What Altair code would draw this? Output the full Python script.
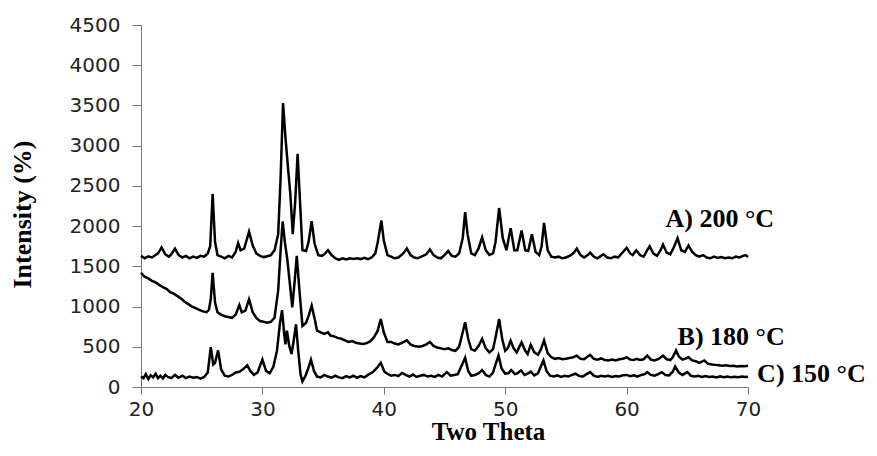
import altair as alt
import pandas as pd

# ---- Data ----
theta_a = [20.0, 20.3, 20.6, 20.9, 21.2, 21.4, 21.7, 22.0, 22.3, 22.5, 22.8, 23.1, 23.4, 23.7, 24.0, 24.3, 24.6, 24.9,
           25.2, 25.5, 25.7, 25.9, 26.1, 26.3, 26.6, 26.9, 27.2, 27.5, 27.8, 28.0, 28.2, 28.5, 28.9, 29.2, 29.5, 29.8,
           30.1, 30.4, 30.7, 31.0, 31.3, 31.5, 31.7, 31.9, 32.1, 32.3, 32.5, 32.7, 32.9, 33.1, 33.3, 33.6, 33.8, 34.06,
           34.3, 34.6, 34.9, 35.1, 35.4, 35.7, 36.0, 36.3, 36.6, 36.9, 37.2, 37.5, 37.8, 38.1, 38.4, 38.7, 39.0, 39.3,
           39.5, 39.8, 40.0, 40.3, 40.6, 40.9, 41.2, 41.6, 41.9, 42.2, 42.5, 42.8, 43.1, 43.5, 43.8, 44.1, 44.4, 44.7,
           45.0, 45.3, 45.6, 45.9, 46.2, 46.5, 46.7, 46.9, 47.2, 47.5, 47.8, 48.1, 48.4, 48.7, 49.0, 49.2, 49.5, 49.8,
           50.1, 50.45, 50.75, 51.0, 51.35, 51.65, 51.9, 52.2, 52.5, 52.8, 53.0, 53.2, 53.5, 53.8, 54.1, 54.4, 54.7,
           55.0, 55.3, 55.6, 55.9, 56.2, 56.5, 56.8, 57.0, 57.3, 57.6, 57.9, 58.1, 58.4, 58.7, 59.0, 59.3, 59.6, 60.0,
           60.3, 60.5, 60.8, 61.1, 61.4, 61.7, 61.9, 62.2, 62.5, 62.8, 63.0, 63.3, 63.6, 63.9, 64.2, 64.5, 64.8, 65.1,
           65.4, 65.7, 66.0, 66.3, 66.6, 66.9, 67.2, 67.5, 67.8, 68.1, 68.4, 68.7, 69.0, 69.3, 69.6, 69.8, 70.0]
int_a = [1630, 1600, 1625, 1610, 1640, 1660, 1735, 1650, 1620, 1650, 1720, 1640, 1610, 1630, 1600, 1620, 1605, 1630,
         1620, 1660, 1750, 2400, 1800, 1640, 1620, 1600, 1630, 1610, 1680, 1790, 1700, 1720, 1930, 1760, 1660, 1630,
         1615, 1625, 1640, 1700, 1900, 2600, 3530, 3100, 2740, 2400, 1900, 2300, 2900, 2300, 1700, 1690, 1800, 2060,
         1780, 1640, 1630, 1650, 1700, 1640, 1600, 1580, 1600, 1585, 1600, 1590, 1600, 1590, 1605, 1590, 1610, 1660,
         1800, 2070, 1820, 1640, 1620, 1600, 1610, 1660, 1720, 1640, 1610, 1600, 1620, 1650, 1710, 1640, 1610, 1600,
         1640, 1690, 1630, 1620, 1660, 1850, 2175, 1900, 1660, 1640, 1720, 1860, 1700, 1640, 1660, 1800, 2225, 1850,
         1700, 1975, 1700, 1700, 1945, 1700, 1690, 1900, 1680, 1640, 1750, 2040, 1700, 1620, 1610, 1620, 1600,
         1610, 1630, 1660, 1720, 1640, 1610, 1640, 1670, 1620, 1600, 1630, 1650, 1610, 1600, 1620, 1610, 1660, 1730,
         1660, 1640, 1700, 1640, 1620, 1700, 1750, 1660, 1630, 1700, 1770, 1670, 1650, 1740, 1850, 1700, 1680, 1760,
         1680, 1640, 1620, 1640, 1610, 1600, 1620, 1605, 1615, 1600, 1610, 1600, 1620, 1610, 1630, 1640, 1615]

theta_b = [20.0, 20.3, 20.6, 20.9, 21.2, 21.5, 21.8, 22.1, 22.4, 22.7, 23.0, 23.3, 23.6, 23.9, 24.2, 24.5, 24.8, 25.1,
           25.4, 25.6, 25.75, 25.9, 26.1, 26.3, 26.6, 26.9, 27.2, 27.5, 27.8, 28.1, 28.3, 28.6, 28.9, 29.2, 29.5, 29.8,
           30.1, 30.4, 30.7, 31.0, 31.3, 31.5, 31.67, 31.85, 32.05, 32.25, 32.46, 32.65, 32.83, 33.05, 33.3, 33.6, 33.8,
           34.06, 34.3, 34.5, 34.8, 35.1, 35.4, 35.6, 35.9, 36.2, 36.5, 36.8, 37.1, 37.4, 37.7, 38.0, 38.3, 38.6, 38.9,
           39.2, 39.5, 39.75, 40.0, 40.3, 40.6, 40.9, 41.2, 41.5, 41.9, 42.2, 42.5, 42.9, 43.2, 43.5, 43.8, 44.1, 44.4,
           44.7, 45.0, 45.3, 45.6, 45.9, 46.2, 46.45, 46.7, 46.95, 47.2, 47.5, 47.8, 48.1, 48.4, 48.7, 49.0, 49.25, 49.5,
           49.75, 50.0, 50.2, 50.45, 50.7, 50.95, 51.35, 51.65, 51.85, 52.1, 52.4, 52.7, 52.95, 53.2, 53.5, 53.8, 54.1,
           54.4, 54.7, 55.0, 55.3, 55.6, 55.9, 56.2, 56.5, 56.8, 57.0, 57.3, 57.6, 57.9, 58.2, 58.5, 58.8, 59.1, 59.4,
           59.7, 60.0, 60.3, 60.6, 60.8, 61.1, 61.4, 61.7, 62.0, 62.3, 62.6, 63.0, 63.3, 63.6, 63.8, 64.07, 64.3, 64.6,
           64.8, 65.1, 65.4, 65.7, 66.0, 66.4, 66.7, 67.0, 67.3, 67.6, 67.9, 68.2, 68.5, 68.8, 69.1, 69.4, 69.7, 70.0]
int_b = [1420, 1370, 1350, 1320, 1300, 1270, 1240, 1220, 1180, 1160, 1130, 1100, 1060, 1030, 1000, 980, 960, 940,
         930, 960, 1100, 1420, 1050, 930, 900, 880, 870, 860, 900, 1020, 930, 950, 1090, 930, 860, 820,
         810, 800, 810, 860, 1200, 1700, 2060, 1800, 1590, 1300, 990, 1300, 1630, 1200, 760, 800, 880,
         1010, 850, 700, 680, 660, 680, 640, 630, 610, 600, 580, 560, 570, 550, 540, 535, 545, 570,
         620, 700, 845, 680, 560, 560, 540, 530, 550, 580, 530, 510, 500, 510, 530, 560, 510, 490,
         480, 470, 480, 460, 450, 500, 650, 805, 600, 470, 450, 510, 600, 480, 430, 470, 650, 845,
         600, 450, 480, 575, 480, 430, 555, 450, 410, 525, 430, 400, 470, 580, 420, 370, 350,
         360, 345, 350, 360, 370, 390, 350, 345, 380, 400, 350, 340, 355, 335, 330, 340, 330, 345,
         350, 370, 340, 335, 350, 335, 345, 390, 340, 330, 345, 390, 345, 335, 370, 455, 380, 340,
         350, 370, 330, 320, 300, 330, 290, 280, 275, 270, 265, 270, 260, 265, 255, 262, 258, 265]

theta_c = [20.0, 20.2, 20.4, 20.6, 20.8, 21.0, 21.2, 21.4, 21.6, 21.8, 22.0, 22.2, 22.5, 22.8, 23.1, 23.4, 23.7, 24.0,
           24.3, 24.6, 24.9, 25.2, 25.5, 25.75, 25.95, 26.1, 26.35, 26.6, 26.9, 27.2, 27.5, 27.8, 28.1, 28.4, 28.75,
           29.0, 29.3, 29.6, 30.0, 30.3, 30.6, 30.9, 31.2, 31.45, 31.62, 31.8, 31.9, 32.02, 32.2, 32.4, 32.6, 32.77,
           32.95, 33.15, 33.3, 33.55, 33.75, 34.0, 34.25, 34.5, 34.8, 35.1, 35.4, 35.7, 36.0, 36.3, 36.6, 36.9, 37.2,
           37.5, 37.8, 38.1, 38.4, 38.7, 39.1, 39.45, 39.75, 40.05, 40.3, 40.6, 40.9, 41.2, 41.5, 41.8, 42.1, 42.4,
           42.7, 43.0, 43.3, 43.6, 43.9, 44.2, 44.5, 44.8, 45.2, 45.5, 45.8, 46.1, 46.4, 46.7, 46.95, 47.2, 47.5, 47.8,
           48.1, 48.4, 48.7, 49.0, 49.2, 49.45, 49.7, 50.0, 50.25, 50.5, 50.8, 51.0, 51.3, 51.6, 51.85, 52.1, 52.4,
           52.7, 52.95, 53.15, 53.4, 53.7, 54.0, 54.3, 54.6, 54.9, 55.2, 55.5, 55.8, 56.1, 56.4, 56.7, 57.0, 57.3,
           57.6, 57.9, 58.2, 58.5, 58.8, 59.1, 59.4, 59.7, 60.0, 60.3, 60.6, 60.9, 61.2, 61.5, 61.7, 62.0, 62.3, 62.6,
           62.9, 63.2, 63.5, 63.8, 64.0, 64.3, 64.6, 65.0, 65.3, 65.6, 65.9, 66.2, 66.5, 66.8, 67.1, 67.4, 67.7, 68.0,
           68.3, 68.6, 68.9, 69.2, 69.5, 69.8, 70.0]
int_c = [130, 110, 160, 100, 145, 120, 165, 110, 140, 105, 150, 125, 110, 150, 115, 140, 110, 130,
         115, 125, 105, 125, 180, 495, 280, 300, 455, 220, 140, 130, 150, 180, 190, 220, 270,
         200, 150, 180, 340, 200, 170, 250, 450, 800, 955, 650, 530, 700, 520, 410, 600, 780,
         450, 150, 70, 140, 220, 340, 200, 130, 120, 150, 130, 115, 140, 120, 110, 135, 120,
         140, 115, 135, 120, 150, 185, 240, 300, 190, 165, 140, 150, 135, 175, 150, 130, 155,
         125, 140, 150, 130, 140, 125, 150, 130, 185, 140, 150, 160, 260, 365, 200, 140, 150, 170,
         210, 150, 130, 180, 280, 390, 230, 165, 170, 210, 160, 170, 205, 150, 165, 190, 145,
         170, 260, 330, 200, 140, 130, 145, 125, 140, 130, 150, 165, 135, 130, 160, 185, 140,
         125, 140, 130, 140, 125, 135, 130, 145, 150, 135, 145, 130, 150, 160, 185, 150, 140, 160,
         185, 150, 145, 190, 255, 180, 150, 185, 140, 130, 140, 125, 135, 125, 130, 120, 132, 122,
         130, 120, 128, 122, 130, 124, 128]

series_names = ["A) 200 °C", "B) 180 °C", "C) 150 °C"]
label_theta = [63.2, 64.2, 70.75]
label_intensity = [1990, 522, 62]

x_ticks = [20, 30, 40, 50, 60, 70]
y_ticks = [0, 500, 1000, 1500, 2000, 2500, 3000, 3500, 4000, 4500]

rows = []
for name, xs, ys in zip(series_names, [theta_a, theta_b, theta_c], [int_a, int_b, int_c]):
    for xv, yv in zip(xs, ys):
        rows.append({"theta": xv, "intensity": yv, "series": name})
df = pd.DataFrame(rows)
labels_df = pd.DataFrame({"theta": label_theta, "intensity": label_intensity, "label": series_names})

x_scale = alt.Scale(domain=[20, 70], nice=False, zero=False)
y_scale = alt.Scale(domain=[0, 4500], nice=False)

x_axis = alt.Axis(values=x_ticks, format="d", title="Two Theta", grid=False, labelFlush=False,
                  domainColor="#777777", tickColor="#777777", tickSize=7,
                  labelFont="DejaVu Sans", labelFontSize=20, labelColor="#222222", labelPadding=5,
                  titleFont="Liberation Serif", titleFontWeight="bold", titleFontSize=25, titleColor="black",
                  titleX=347, titleY=52, titleBaseline="alphabetic")
y_axis = alt.Axis(values=y_ticks, format="d", title="Intensity (%)", grid=False, labelFlush=False,
                  domainColor="#777777", tickColor="#777777", tickSize=9,
                  labelFont="DejaVu Sans", labelFontSize=20, labelColor="#222222", labelPadding=12,
                  titleFont="Liberation Serif", titleFontWeight="bold", titleFontSize=26, titleColor="black",
                  titleX=-119, titleY=189, titleAngle=270, titleBaseline="middle")

lines = alt.Chart(df).mark_line(color="black", strokeWidth=2.5).encode(
    x=alt.X("theta:Q", scale=x_scale, axis=x_axis),
    y=alt.Y("intensity:Q", scale=y_scale, axis=y_axis),
    detail="series:N",
)

texts = alt.Chart(labels_df).mark_text(
    align="left", baseline="alphabetic", font="Liberation Serif", fontWeight="bold",
    fontSize=26, color="black"
).encode(
    x=alt.X("theta:Q", scale=x_scale),
    y=alt.Y("intensity:Q", scale=y_scale),
    text="label:N",
)

chart = (lines + texts).properties(
    width=607, height=362,
    autosize=alt.AutoSizeParams(type="none"),
    padding={"left": 133, "top": 17, "right": 120, "bottom": 57},
    background="white",
).configure_view(stroke=None)

chart.save("out.html", embed_options={"renderer": "svg", "actions": False})
